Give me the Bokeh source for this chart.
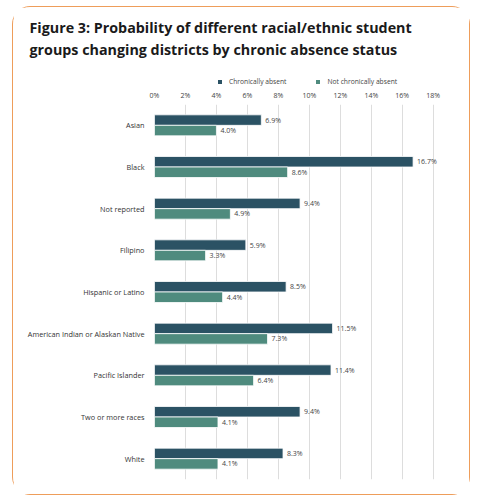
from bokeh.plotting import figure
from bokeh.layouts import column
from bokeh.models import (FactorRange, FixedTicker, PrintfTickFormatter, Range1d,
                          Legend, LegendItem, ColumnDataSource)
from bokeh.transform import dodge
from bokeh.core.properties import value
from bokeh.embed import file_html
from bokeh.resources import INLINE

categories = ["Asian", "Black", "Not reported", "Filipino", "Hispanic or Latino",
              "American Indian or Alaskan Native", "Pacific Islander",
              "Two or more races", "White"]
chronic = [6.9, 16.7, 9.4, 5.9, 8.5, 11.5, 11.4, 9.4, 8.3]
not_chronic = [4.0, 8.6, 4.9, 3.3, 4.4, 7.3, 6.4, 4.1, 4.1]
tick_values = [0, 2, 4, 6, 8, 10, 12, 14, 16, 18]
series_names = ["Chronically absent", "Not chronically absent"]
title_lines = ["Figure 3: Probability of different racial/ethnic student",
               "groups changing districts by chronic absence status"]

DARK = "#2b5264"
GREEN = "#4f8b7e"
FONT = "Open Sans"
W = 456
H_HEAD = 80
H_MAIN = 407
B_LEFT, B_RIGHT = 141, 27

src = ColumnDataSource(dict(
    cat=categories, chronic=chronic, not_chronic=not_chronic,
    chronic_lbl=[f"{v:.1f}%" for v in chronic],
    not_lbl=[f"{v:.1f}%" for v in not_chronic],
))

# ---------- header: title + legend ----------
hdr = figure(width=W, height=H_HEAD, x_range=Range1d(0, 1), y_range=Range1d(0, 1),
             x_axis_type=None, y_axis_type=None, output_backend="svg",
             toolbar_location=None, min_border_left=B_LEFT, min_border_right=B_RIGHT,
             min_border_top=56, min_border_bottom=0)
hdr.outline_line_color = None
hdr.xgrid.visible = False
hdr.ygrid.visible = False

hdr.title.text = "\n".join(title_lines)
hdr.title.align = "left"
hdr.title.offset = -125
hdr.title.text_font = FONT
hdr.title.text_font_size = "14.3px"
hdr.title.text_font_style = "bold"
hdr.title.text_color = "#1a1a1a"
hdr.title.text_line_height = 1.2
hdr.title.standoff = 16

# legend swatches: the same series, not drawn in the header itself
h1 = hdr.hbar(y="chronic", left="chronic", right="chronic", height=0, source=src,
              fill_color=DARK, line_color=None)
h2 = hdr.hbar(y="not_chronic", left="not_chronic", right="not_chronic", height=0,
              source=src, fill_color=GREEN, line_color=None)
h1.visible = False
h2.visible = False
legend = Legend(items=[LegendItem(label=series_names[0], renderers=[h1]),
                       LegendItem(label=series_names[1], renderers=[h2])],
                orientation="horizontal", location=(63, 1),
                glyph_width=5, glyph_height=5, label_text_font=FONT,
                label_text_font_size="6.7px", label_text_color="#444444",
                spacing=29, background_fill_alpha=0, border_line_color=None,
                padding=2, margin=0, label_standoff=7,
                inactive_fill_alpha=0)
hdr.add_layout(legend, "center")

# ---------- main bar chart ----------
p = figure(width=W, height=H_MAIN, y_range=FactorRange(*reversed(categories)),
           x_range=(0, 18.6), x_axis_location="above",
           output_backend="svg", toolbar_location=None,
           min_border_left=B_LEFT, min_border_right=B_RIGHT,
           min_border_top=17, min_border_bottom=15)
p.outline_line_color = None

BH = 0.252
p.hbar(y=dodge("cat", BH / 2, range=p.y_range), right="chronic", height=BH,
       source=src, fill_color=DARK, line_color="white", line_width=0.8)
p.hbar(y=dodge("cat", -BH / 2, range=p.y_range), right="not_chronic", height=BH,
       source=src, fill_color=GREEN, line_color="white", line_width=0.8)

p.text(x="chronic", y=dodge("cat", BH / 2, range=p.y_range), text="chronic_lbl",
       source=src, x_offset=4, text_baseline="middle", text_font=value(FONT),
       text_font_size="7px", text_color="#444444")
p.text(x="not_chronic", y=dodge("cat", -BH / 2, range=p.y_range), text="not_lbl",
       source=src, x_offset=4, text_baseline="middle", text_font=value(FONT),
       text_font_size="7px", text_color="#444444")

xa = p.xaxis[0]
xa.ticker = FixedTicker(ticks=tick_values)
xa.formatter = PrintfTickFormatter(format="%d%%")
xa.axis_line_color = None
xa.major_tick_line_color = None
xa.minor_tick_line_color = None
xa.major_tick_out = 0
xa.major_tick_in = 0
xa.minor_tick_out = 0
xa.major_label_text_font = FONT
xa.major_label_text_font_size = "7px"
xa.major_label_text_color = "#444444"
xa.major_label_standoff = 5

ya = p.yaxis[0]
ya.axis_line_color = None
ya.major_tick_line_color = None
ya.minor_tick_line_color = None
ya.major_tick_out = 0
ya.major_tick_in = 0
ya.major_label_text_font = FONT
ya.major_label_text_font_size = "7.3px"
ya.major_label_text_color = "#333333"
ya.major_label_standoff = 10

p.ygrid.grid_line_color = None
p.xgrid.ticker = FixedTicker(ticks=tick_values)
p.xgrid.grid_line_color = "#dddddd"
p.xgrid.grid_line_width = 1

layout = column(hdr, p, spacing=0,
                styles={"border": "1.5px solid #ee9d5a", "border-radius": "18px",
                        "margin-left": "12px", "margin-top": "6px"})

open("out.html", "w").write(file_html(layout, INLINE))
